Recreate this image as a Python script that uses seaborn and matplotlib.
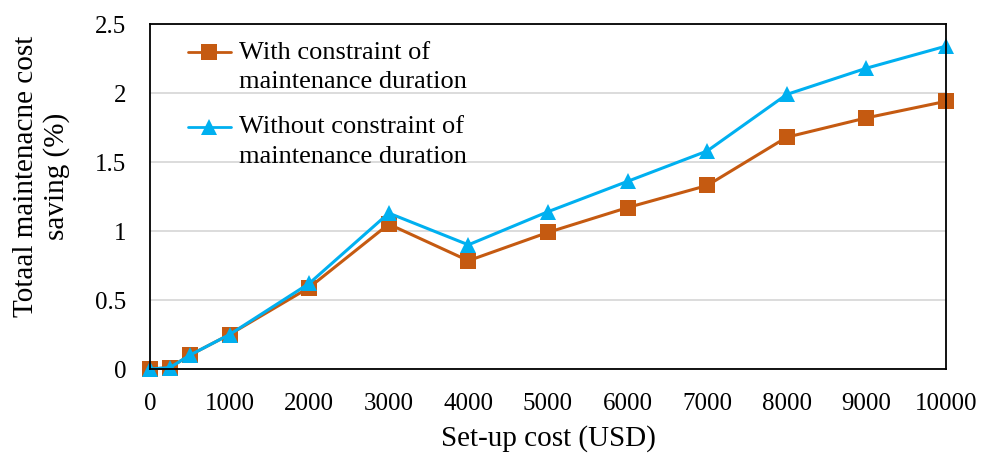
import matplotlib
matplotlib.use("Agg")
import matplotlib.pyplot as plt
import seaborn as sns
import pandas as pd
import numpy as np

setup_cost = [0, 250, 500, 1000, 2000, 3000, 4000, 5000, 6000, 7000, 8000, 9000, 10000]
with_constraint = [0, 0.01, 0.10, 0.25, 0.59, 1.05, 0.785, 0.99, 1.17, 1.33, 1.68, 1.82, 1.94]
without_constraint = [0, 0.01, 0.10, 0.25, 0.62, 1.13, 0.90, 1.14, 1.36, 1.58, 1.99, 2.18, 2.34]
x_ticks = [0, 1000, 2000, 3000, 4000, 5000, 6000, 7000, 8000, 9000, 10000]
y_ticks = [0, 0.5, 1, 1.5, 2, 2.5]
y_tick_labels = ["0", "0.5", "1", "1.5", "2", "2.5"]

label_with = "With constraint of\nmaintenance duration"
label_without = "Without constraint of\nmaintenance duration"

df = pd.DataFrame({
    "cost": setup_cost * 2,
    "saving": with_constraint + without_constraint,
    "case": [label_with] * len(setup_cost) + [label_without] * len(setup_cost),
})

sns.set_theme(style="white")
plt.rcParams["font.family"] = ["Liberation Serif", "DejaVu Serif"]
plt.rcParams["text.color"] = "black"
plt.rcParams["axes.labelcolor"] = "black"
plt.rcParams["xtick.color"] = "black"
plt.rcParams["ytick.color"] = "black"

fig = plt.figure(figsize=(9.82, 4.54), dpi=100)
ax = fig.add_axes([0.1527, 0.1872, 0.9633 - 0.1527, 0.947 - 0.1872])

sns.lineplot(
    data=df, x="cost", y="saving", hue="case", style="case",
    palette={label_with: "#C55A11", label_without: "#00B0F0"},
    markers={label_with: "s", label_without: "^"},
    dashes=False, markersize=11, linewidth=2.2, markeredgewidth=0,
    clip_on=False, ax=ax,
)

ax.set_xlim(0, 10000)
ax.set_ylim(0, 2.5)
ax.set_xticks(x_ticks)
ax.set_xticklabels([str(t) for t in x_ticks], fontsize=18)
ax.set_yticks(y_ticks)
ax.set_yticklabels(y_tick_labels, fontsize=18)
ax.tick_params(axis="x", length=0, pad=17.5)
ax.tick_params(axis="y", length=0, pad=17)
ax.grid(axis="y", color="#D9D9D9", linewidth=1.3)
ax.set_axisbelow(True)
for s in ax.spines.values():
    s.set_color("black")
    s.set_linewidth(1.3)

ax.set_xlabel("Set-up cost (USD)", fontsize=21, labelpad=7)
ax.set_ylabel("Totaal maintenacne cost\nsaving (%)", fontsize=21, linespacing=1.2)
ax.yaxis.set_label_coords(-0.1005, 0.557)

handles, labels = ax.get_legend_handles_labels()
leg = ax.legend(
    handles, labels, loc="upper left", bbox_to_anchor=(0.035, 0.98),
    frameon=False, fontsize=19, handlelength=1.6, handletextpad=0.3,
    labelspacing=0.9, borderaxespad=0,
)
for t in leg.get_texts():
    t.set_linespacing(1.42)
    t.set_color("black")
# put each legend symbol beside the first line of its two-line label
for h in leg.legend_handles:
    h.set_ydata(np.asarray(h.get_ydata()) + 10)
    h.set_linewidth(2.0)

fig.savefig("out.png", dpi=100)
